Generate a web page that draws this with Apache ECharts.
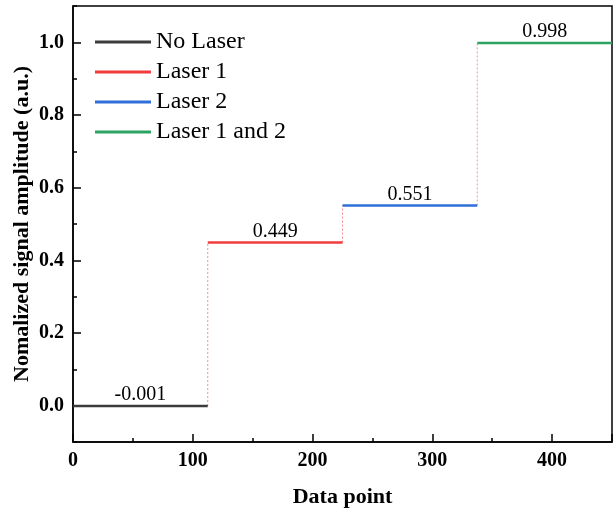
<!DOCTYPE html>
<html>
<head>
<meta charset="utf-8">
<script src="https://cdn.jsdelivr.net/npm/echarts@6/dist/echarts.min.js"></script>
<style>html,body{margin:0;padding:0;background:#fff}#c{width:614px;height:512px}</style>
</head>
<body>
<div id="c"></div>
<script>
const categories = ['No Laser', 'Laser 1', 'Laser 2', 'Laser 1 and 2'];
const stepStart = [0, 112.5, 225, 337.5];
const stepEnd = [112.5, 225, 337.5, 450];
const levels = [-0.001, 0.449, 0.551, 0.998];
const colors = ['#3c3c3c', '#f23c3c', '#2f6fd9', '#2da462'];
const yMajorTicks = [0, 0.2, 0.4, 0.6, 0.8, 1.0];
const yMinorTicks = [-0.1, 0.1, 0.3, 0.5, 0.7, 0.9, 1.1];

const FONT = "'Liberation Serif', 'Times New Roman', serif";
const chart = echarts.init(document.getElementById('c'));

const series = [];
// dotted connectors between steps
for (let i = 1; i < categories.length; i++) {
  series.push({
    type: 'line',
    data: [[stepStart[i], levels[i - 1]], [stepStart[i], levels[i]]],
    showSymbol: false,
    symbol: 'none',
    silent: true,
    lineStyle: { color: '#ff8c8c', width: 1, type: [2, 2] },
    z: 1,
    animation: false
  });
}
categories.forEach((name, i) => {
  const mid = (stepStart[i] + stepEnd[i]) / 2;
  series.push({
    name: name,
    type: 'line',
    symbol: 'circle',
    symbolSize: 0,
    showSymbol: true,
    showAllSymbol: true,
    color: colors[i],
    lineStyle: { color: colors[i], width: 2.5 },
    data: [
      [stepStart[i], levels[i]],
      { value: [mid, levels[i]], label: { show: true } },
      [stepEnd[i], levels[i]]
    ],
    label: {
      show: false,
      position: 'top',
      distance: 1,
      color: '#000',
      fontFamily: FONT,
      fontSize: 20,
      formatter: () => levels[i].toFixed(3)
    },
    labelLayout: { hideOverlap: false },
    z: 3,
    animation: false
  });
});

chart.setOption({
  animation: false,
  grid: {
    left: 73, right: 2, top: 6, bottom: 70,
    outerBoundsMode: 'none',
    containLabel: false,
    show: true, borderColor: '#000', borderWidth: 1.5, backgroundColor: 'transparent'
  },
  legend: {
    data: categories,
    orient: 'vertical',
    left: 95,
    top: 30,
    itemWidth: 56,
    itemHeight: 3,
    itemGap: 6,
    icon: 'rect',
    textStyle: { fontFamily: FONT, fontSize: 24, color: '#000' },
    padding: 0
  },
  xAxis: {
    type: 'value',
    min: 0, max: 450, interval: 100,
    name: 'Data point',
    nameLocation: 'middle',
    nameGap: 44,
    nameMoveOverlap: false,
    nameTextStyle: { fontFamily: FONT, fontSize: 22, fontWeight: 'bold', color: '#000' },
    axisLine: { show: true, onZero: false, lineStyle: { color: '#000', width: 1.5 } },
    axisTick: { show: true, inside: true, length: 8, lineStyle: { color: '#000', width: 1.5 } },
    minorTick: { show: true, splitNumber: 2, length: 4, lineStyle: { color: '#000', width: 1.5 } },
    splitLine: { show: false },
    minorSplitLine: { show: false },
    axisLabel: { fontFamily: FONT, fontSize: 20, fontWeight: 'bold', color: '#000', margin: 9, showMaxLabel: false }
  },
  yAxis: [{
    type: 'value',
    min: -0.1, max: 1.1,
    name: 'Nomalized signal amplitude (a.u.)',
    nameLocation: 'middle',
    nameGap: 40,
    nameMoveOverlap: false,
    nameTextStyle: { fontFamily: FONT, fontSize: 22, fontWeight: 'bold', color: '#000' },
    axisLine: { show: true, onZero: false, lineStyle: { color: '#000', width: 1.5 } },
    axisTick: { show: true, inside: true, length: 8, customValues: yMajorTicks, lineStyle: { color: '#000', width: 1.5 } },
    splitLine: { show: false },
    axisLabel: {
      fontFamily: FONT, fontSize: 20, fontWeight: 'bold', color: '#000', margin: 9,
      customValues: yMajorTicks,
      formatter: v => v.toFixed(1)
    }
  }, {
    type: 'value',
    min: -0.1, max: 1.1,
    position: 'left',
    axisLine: { show: false, onZero: false },
    axisTick: { show: true, inside: true, length: 4, customValues: yMinorTicks, lineStyle: { color: '#000', width: 1.5 } },
    axisLabel: { show: false },
    splitLine: { show: false }
  }],
  series: series
});
</script>
</body>
</html>
